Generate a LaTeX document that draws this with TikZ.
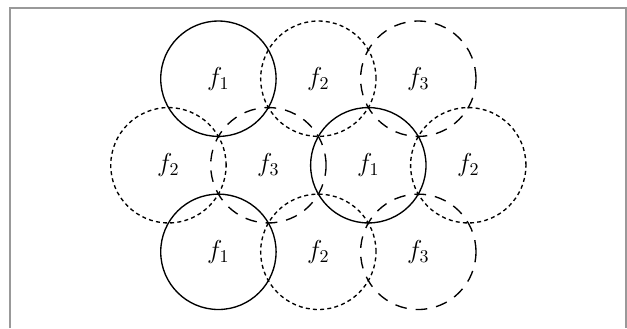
\documentclass[tikz,border=0pt]{standalone}
\usetikzlibrary{positioning}

\begin{document}
\begin{tikzpicture}[
    x=32.06pt, y=32.06pt,
    font=\Large,
    cell/.style={circle, minimum size=64.1pt, inner sep=0pt, line width=0.75pt},
    cellone/.style={cell, draw},
    celltwo/.style={cell, draw, dash pattern=on 2.2pt off 1.8pt},
    cellthree/.style={cell, draw, dash pattern=on 6.5pt off 5pt},
    frame/.style={draw=black!40, line width=0.6pt},
]

\useasboundingbox (-3.785,-4.321) rectangle (7.081,1.364);

% ── outer frame (open at the bottom) ─────────────────────────────────────────
\draw[frame] (-3.612,-4.321) |- (7.064,1.225) -- (7.064,-4.321);

% ── top row ──────────────────────────────────────────────────────────────────
\node[cellone]   (t1) at (0,0)     {$f_1$};
\node[celltwo]   (t2) at (1.732,0) {$f_2$};
\node[cellthree] (t3) at (3.464,0) {$f_3$};

% ── middle row ───────────────────────────────────────────────────────────────
\node[celltwo]   (m1) at (-0.866,-1.5) {$f_2$};
\node[cellthree] (m2) at (0.866,-1.5)  {$f_3$};
\node[cellone]   (m3) at (2.598,-1.5)  {$f_1$};
\node[celltwo]   (m4) at (4.330,-1.5)  {$f_2$};

% ── bottom row ───────────────────────────────────────────────────────────────
\node[cellone]   (b1) at (0,-3)     {$f_1$};
\node[celltwo]   (b2) at (1.732,-3) {$f_2$};
\node[cellthree] (b3) at (3.464,-3) {$f_3$};

\end{tikzpicture}
\end{document}
